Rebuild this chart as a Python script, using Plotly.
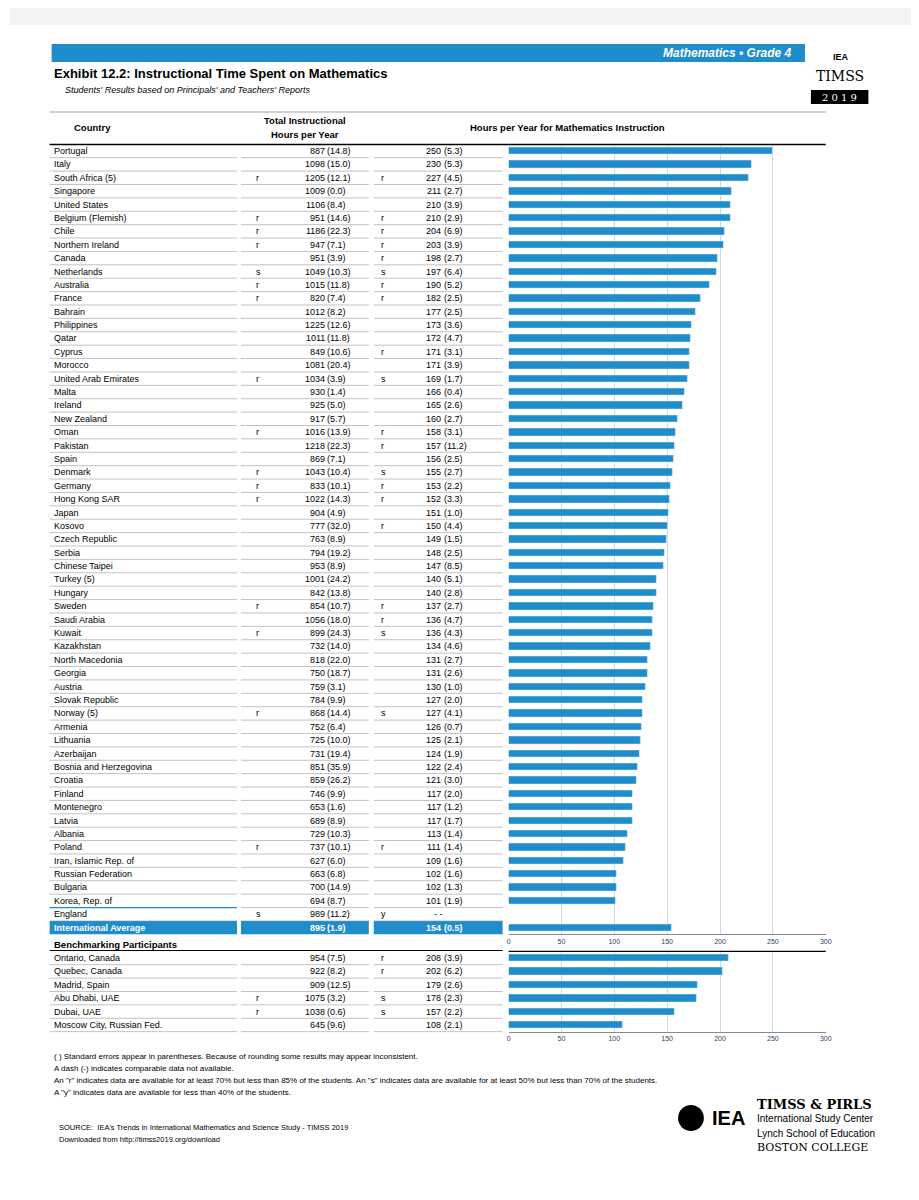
import plotly.graph_objects as go

# ---- data ----
countries = ["Portugal", "Italy", "South Africa (5)", "Singapore", "United States", "Belgium (Flemish)",
             "Chile", "Northern Ireland", "Canada", "Netherlands", "Australia", "France", "Bahrain",
             "Philippines", "Qatar", "Cyprus", "Morocco", "United Arab Emirates", "Malta", "Ireland",
             "New Zealand", "Oman", "Pakistan", "Spain", "Denmark", "Germany", "Hong Kong SAR", "Japan",
             "Kosovo", "Czech Republic", "Serbia", "Chinese Taipei", "Turkey (5)", "Hungary", "Sweden",
             "Saudi Arabia", "Kuwait", "Kazakhstan", "North Macedonia", "Georgia", "Austria",
             "Slovak Republic", "Norway (5)", "Armenia", "Lithuania", "Azerbaijan",
             "Bosnia and Herzegovina", "Croatia", "Finland", "Montenegro", "Latvia", "Albania", "Poland",
             "Iran, Islamic Rep. of", "Russian Federation", "Bulgaria", "Korea, Rep. of", "England",
             "International Average"]
total_hours = [887, 1098, 1205, 1009, 1106, 951, 1186, 947, 951, 1049, 1015, 820, 1012, 1225, 1011, 849,
               1081, 1034, 930, 925, 917, 1016, 1218, 869, 1043, 833, 1022, 904, 777, 763, 794, 953, 1001,
               842, 854, 1056, 899, 732, 818, 750, 759, 784, 868, 752, 725, 731, 851, 859, 746, 653, 689,
               729, 737, 627, 663, 700, 694, 989, 895]
total_se = [14.8, 15.0, 12.1, 0.0, 8.4, 14.6, 22.3, 7.1, 3.9, 10.3, 11.8, 7.4, 8.2, 12.6, 11.8, 10.6, 20.4,
            3.9, 1.4, 5.0, 5.7, 13.9, 22.3, 7.1, 10.4, 10.1, 14.3, 4.9, 32.0, 8.9, 19.2, 8.9, 24.2, 13.8,
            10.7, 18.0, 24.3, 14.0, 22.0, 18.7, 3.1, 9.9, 14.4, 6.4, 10.0, 19.4, 35.9, 26.2, 9.9, 1.6, 8.9,
            10.3, 10.1, 6.0, 6.8, 14.9, 8.7, 11.2, 1.9]
total_flag = ["", "", "r", "", "", "r", "r", "r", "", "s", "r", "r", "", "", "", "", "", "r", "", "", "",
              "r", "", "", "r", "r", "r", "", "", "", "", "", "", "", "r", "", "r", "", "", "", "", "",
              "r", "", "", "", "", "", "", "", "", "", "r", "", "", "", "", "s", ""]
math_hours = [250, 230, 227, 211, 210, 210, 204, 203, 198, 197, 190, 182, 177, 173, 172, 171, 171, 169,
              166, 165, 160, 158, 157, 156, 155, 153, 152, 151, 150, 149, 148, 147, 140, 140, 137, 136,
              136, 134, 131, 131, 130, 127, 127, 126, 125, 124, 122, 121, 117, 117, 117, 113, 111, 109,
              102, 102, 101, None, 154]
math_se = [5.3, 5.3, 4.5, 2.7, 3.9, 2.9, 6.9, 3.9, 2.7, 6.4, 5.2, 2.5, 2.5, 3.6, 4.7, 3.1, 3.9, 1.7, 0.4,
           2.6, 2.7, 3.1, 11.2, 2.5, 2.7, 2.2, 3.3, 1.0, 4.4, 1.5, 2.5, 8.5, 5.1, 2.8, 2.7, 4.7, 4.3, 4.6,
           2.7, 2.6, 1.0, 2.0, 4.1, 0.7, 2.1, 1.9, 2.4, 3.0, 2.0, 1.2, 1.7, 1.4, 1.4, 1.6, 1.6, 1.3, 1.9,
           None, 0.5]
math_flag = ["", "", "r", "", "", "r", "r", "r", "r", "s", "r", "r", "", "", "", "r", "", "s", "", "", "",
             "r", "r", "", "s", "r", "r", "", "r", "", "", "", "", "", "r", "r", "s", "", "", "", "", "",
             "s", "", "", "", "", "", "", "", "", "", "r", "", "", "", "", "y", ""]

bench = ["Ontario, Canada", "Quebec, Canada", "Madrid, Spain", "Abu Dhabi, UAE", "Dubai, UAE",
         "Moscow City, Russian Fed."]
bench_total = [954, 922, 909, 1075, 1038, 645]
bench_total_se = [7.5, 8.2, 12.5, 3.2, 0.6, 9.6]
bench_total_flag = ["", "", "", "r", "r", ""]
bench_math = [208, 202, 179, 178, 157, 108]
bench_math_se = [3.9, 6.2, 2.6, 2.3, 2.2, 2.1]
bench_math_flag = ["r", "r", "", "s", "s", ""]

# page has an 8px body margin, so the figure is 8px smaller and coordinates are offset
OFF = 8
W, H = 919 - OFF, 1200 - OFF
BLUE = "#1f8dcb"
FONT = "Arial, Liberation Sans, sans-serif"


def px(x):
    return (x - OFF) / W


def py(y):
    return 1 - (y - OFF) / H


ROW = 13.39
Y0 = 151
BY0 = 958
annos, shapes = [], []


def text(x, y, s, size=9, anchor="left", color="black", bold=False, italic=False, family=FONT):
    if bold:
        s = "<b>" + s + "</b>"
    if italic:
        s = "<i>" + s + "</i>"
    dx = {"left": -2, "right": 2, "center": 0}[anchor]
    annos.append(dict(x=px(x + dx), y=py(y), xref="paper", yref="paper", text=s, showarrow=False,
                      xanchor=anchor, yanchor="middle", font=dict(size=size, color=color, family=family)))


def rect(x0, y0, x1, y1, color):
    shapes.append(dict(type="rect", xref="paper", yref="paper", x0=px(x0), x1=px(x1), y0=py(y0), y1=py(y1),
                       fillcolor=color, line=dict(width=0), layer="below"))


def hline(x0, x1, y, color="#999", width=0.6):
    shapes.append(dict(type="line", xref="paper", yref="paper", x0=px(x0), x1=px(x1), y0=py(y), y1=py(y),
                       line=dict(color=color, width=width)))


def table_rows(names, th, tse, tfl, mh, mse, mfl, ystart, highlight_last=False):
    for i, name in enumerate(names):
        y = ystart + ROW * i
        hl = highlight_last and i == len(names) - 1
        col = "white" if hl else "black"
        if hl:
            for a, b in [(48, 237), (241, 370), (375, 505)]:
                rect(a, y - 6.7, b, y + 6.7, BLUE)
        text(52, y, name, size=9, color=col, bold=hl)
        text(256, y, tfl[i], color=col)
        text(326, y, str(th[i]), anchor="right", color=col, bold=hl)
        text(328, y, "(%.1f)" % tse[i], color=col, bold=hl)
        text(382, y, mfl[i], color=col)
        if mh[i] is None:
            text(440, y, "- -", anchor="center", color=col)
        else:
            text(443, y, str(mh[i]), anchor="right", color=col, bold=hl)
            text(446, y, "(%.1f)" % mse[i], color=col, bold=hl)
        if not hl:
            for a, b in [(48, 237), (241, 370), (375, 505)]:
                hline(a, b, y + 6.7)


table_rows(countries, total_hours, total_se, total_flag, math_hours, math_se, math_flag, Y0, True)
table_rows(bench, bench_total, bench_total_se, bench_total_flag, bench_math, bench_math_se,
           bench_math_flag, BY0)
hline(48, 237, Y0 + ROW * 56.5, color=BLUE, width=1.2)

fig = go.Figure()
fig.add_trace(go.Bar(y=countries, x=math_hours, orientation="h", marker_color=BLUE, width=0.55,
                     xaxis="x", yaxis="y", showlegend=False))
fig.add_trace(go.Bar(y=bench, x=bench_math, orientation="h", marker_color=BLUE, width=0.55,
                     xaxis="x2", yaxis="y2", showlegend=False))

n = len(countries)
ax = dict(range=[0, 300], tickvals=list(range(0, 301, 50)), showgrid=True, gridcolor="#cdd8e4",
          gridwidth=0.6, tickfont=dict(size=7, family=FONT), zeroline=False, showline=True,
          linecolor="#888", linewidth=0.6, ticks="", fixedrange=True)
main_top, main_bot = Y0 - ROW / 2, Y0 + ROW * (n - 0.5)
b_top, b_bot = BY0 - ROW / 2, BY0 + ROW * (len(bench) - 0.5)

# header / decoration
rect(OFF, OFF, 919, 25, "#f3f3f6")
rect(50, 44, 810, 62, BLUE)
text(797, 53, "Mathematics • Grade 4", size=12, anchor="right", color="white", bold=True, italic=True)
text(52, 74, "Exhibit 12.2: Instructional Time Spent on Mathematics", size=13, bold=True)
text(63, 90, "Students' Results based on Principals' and Teachers' Reports", size=9, italic=True)
text(846, 57, "IEA", size=9, anchor="center", bold=True)
text(845, 76, "TIMSS", size=14, anchor="center", family="DejaVu Serif, serif")
rect(816, 90, 874, 104, "black")
text(845, 97, "2 0 1 9", size=10, anchor="center", color="white", family="DejaVu Serif, serif")
hline(48, 831, 112, color="#666", width=0.6)
text(73, 128, "Country", size=9.5, bold=True)
text(306, 121, "Total Instructional", size=9.5, anchor="center", bold=True)
text(306, 134, "Hours per Year", size=9.5, anchor="center", bold=True)
text(570, 128, "Hours per Year for Mathematics Instruction", size=9.5, anchor="center", bold=True)
hline(48, 831, 144.5, color="black", width=1.6)
text(52, 944, "Benchmarking Participants", size=9.5, bold=True)
hline(48, 505, 950.5, color="black", width=1.2)
hline(511, 831, b_top, color="black", width=1.2)

notes = ["( ) Standard errors appear in parentheses. Because of rounding some results may appear inconsistent.",
         "A dash (-) indicates comparable data not available.",
         "An \"r\" indicates data are available for at least 70% but less than 85% of the students. An \"s\" indicates data are available for at least 50% but less than 70% of the students.",
         "A \"y\" indicates data are available for less than 40% of the students."]
for k, s in enumerate(notes):
    text(52, 1056 + 12 * k, s, size=8)
text(57, 1127, "SOURCE:  IEA's Trends in International Mathematics and Science Study - TIMSS 2019", size=7.5)
text(57, 1139, "Downloaded from http://timss2019.org/download", size=7.5)
text(716, 1118, "IEA", size=20, bold=True)
text(762, 1104, "TIMSS & PIRLS", size=13, bold=True, family="DejaVu Serif, serif")
text(762, 1118, "International Study Center", size=10)
text(762, 1133, "Lynch School of Education", size=10)
text(762, 1147, "BOSTON COLLEGE", size=11, family="DejaVu Serif, serif")
shapes.append(dict(type="circle", xref="paper", yref="paper", x0=px(682), x1=px(708), y0=py(1131),
                   y1=py(1105), fillcolor="black", line=dict(width=0)))

fig.update_layout(
    width=W, height=H, margin=dict(l=0, r=0, t=0, b=0), paper_bgcolor="white", plot_bgcolor="white",
    font=dict(family=FONT), bargap=0, annotations=annos, shapes=shapes,
    xaxis=dict(ax, domain=[px(511), px(831)], anchor="y"),
    yaxis=dict(domain=[py(main_bot), py(main_top)], range=[n - 0.5, -0.5], showticklabels=False,
               showgrid=False, zeroline=False, anchor="x", fixedrange=True),
    xaxis2=dict(ax, domain=[px(511), px(831)], anchor="y2"),
    yaxis2=dict(domain=[py(b_bot), py(b_top)], range=[len(bench) - 0.5, -0.5], showticklabels=False,
                showgrid=False, zeroline=False, anchor="x2", fixedrange=True),
)
fig.write_html("out.html")
